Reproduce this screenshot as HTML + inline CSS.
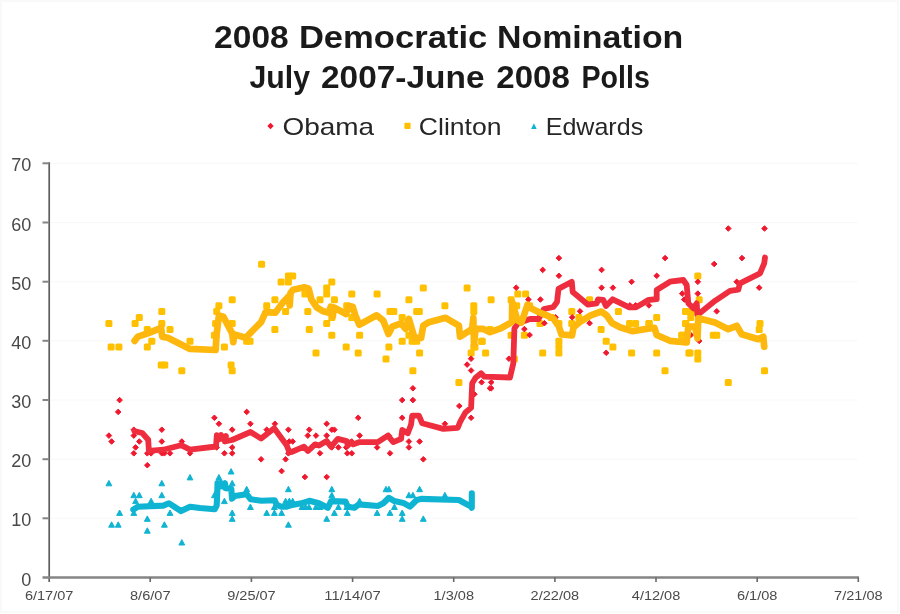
<!DOCTYPE html>
<html lang="en"><head><meta charset="utf-8"><title>2008 Democratic Nomination</title>
<style>html,body{margin:0;padding:0;background:#fff}svg{display:block}text{font-family:'Liberation Sans', sans-serif}</style></head><body>
<svg width="900" height="614" viewBox="0 0 900 614">
<rect x="0" y="0" width="900" height="614" fill="#ffffff"/>
<rect x="1" y="1" width="897" height="611" fill="none" stroke="#f9f9f9" stroke-width="2"/>
<line x1="50" x2="858" y1="518.3" y2="518.3" stroke="#f8f8f8" stroke-width="1"/>
<line x1="50" x2="858" y1="459.2" y2="459.2" stroke="#f8f8f8" stroke-width="1"/>
<line x1="50" x2="858" y1="400.0" y2="400.0" stroke="#f8f8f8" stroke-width="1"/>
<line x1="50" x2="858" y1="340.8" y2="340.8" stroke="#f8f8f8" stroke-width="1"/>
<line x1="50" x2="858" y1="281.7" y2="281.7" stroke="#f8f8f8" stroke-width="1"/>
<line x1="50" x2="858" y1="222.5" y2="222.5" stroke="#f8f8f8" stroke-width="1"/>
<line x1="50" x2="858" y1="163.3" y2="163.3" stroke="#f8f8f8" stroke-width="1"/>
<g id="clinton-pts" fill="#ffc000">
<rect x="105.4" y="320.0" width="7" height="7" rx="1.5"/>
<rect x="107.6" y="343.6" width="7" height="7" rx="1.5"/>
<rect x="115.4" y="343.6" width="7" height="7" rx="1.5"/>
<rect x="131.6" y="320.0" width="7" height="7" rx="1.5"/>
<rect x="135.8" y="314.1" width="7" height="7" rx="1.5"/>
<rect x="143.8" y="325.9" width="7" height="7" rx="1.5"/>
<rect x="143.8" y="343.6" width="7" height="7" rx="1.5"/>
<rect x="148.3" y="337.7" width="7" height="7" rx="1.5"/>
<rect x="158.3" y="308.1" width="7" height="7" rx="1.5"/>
<rect x="158.3" y="320.0" width="7" height="7" rx="1.5"/>
<rect x="166.5" y="325.9" width="7" height="7" rx="1.5"/>
<rect x="186.5" y="337.7" width="7" height="7" rx="1.5"/>
<rect x="157.7" y="361.4" width="7" height="7" rx="1.5"/>
<rect x="161.3" y="361.4" width="7" height="7" rx="1.5"/>
<rect x="178.3" y="367.3" width="7" height="7" rx="1.5"/>
<rect x="213.2" y="308.1" width="7" height="7" rx="1.5"/>
<rect x="215.4" y="302.2" width="7" height="7" rx="1.5"/>
<rect x="228.7" y="296.3" width="7" height="7" rx="1.5"/>
<rect x="212.1" y="320.0" width="7" height="7" rx="1.5"/>
<rect x="210.9" y="331.8" width="7" height="7" rx="1.5"/>
<rect x="220.9" y="343.6" width="7" height="7" rx="1.5"/>
<rect x="228.7" y="320.0" width="7" height="7" rx="1.5"/>
<rect x="227.6" y="361.4" width="7" height="7" rx="1.5"/>
<rect x="228.7" y="367.3" width="7" height="7" rx="1.5"/>
<rect x="246.5" y="337.7" width="7" height="7" rx="1.5"/>
<rect x="243.2" y="337.7" width="7" height="7" rx="1.5"/>
<rect x="258.1" y="260.8" width="7" height="7" rx="1.5"/>
<rect x="263.2" y="302.2" width="7" height="7" rx="1.5"/>
<rect x="271.4" y="296.3" width="7" height="7" rx="1.5"/>
<rect x="271.4" y="325.9" width="7" height="7" rx="1.5"/>
<rect x="277.6" y="278.6" width="7" height="7" rx="1.5"/>
<rect x="284.9" y="272.6" width="7" height="7" rx="1.5"/>
<rect x="284.9" y="278.6" width="7" height="7" rx="1.5"/>
<rect x="282.1" y="308.1" width="7" height="7" rx="1.5"/>
<rect x="289.2" y="272.6" width="7" height="7" rx="1.5"/>
<rect x="301.4" y="290.4" width="7" height="7" rx="1.5"/>
<rect x="304.3" y="308.1" width="7" height="7" rx="1.5"/>
<rect x="305.8" y="325.9" width="7" height="7" rx="1.5"/>
<rect x="312.5" y="349.6" width="7" height="7" rx="1.5"/>
<rect x="316.5" y="296.3" width="7" height="7" rx="1.5"/>
<rect x="323.2" y="284.5" width="7" height="7" rx="1.5"/>
<rect x="323.2" y="290.4" width="7" height="7" rx="1.5"/>
<rect x="323.2" y="320.0" width="7" height="7" rx="1.5"/>
<rect x="328.3" y="278.6" width="7" height="7" rx="1.5"/>
<rect x="328.3" y="314.1" width="7" height="7" rx="1.5"/>
<rect x="328.3" y="331.8" width="7" height="7" rx="1.5"/>
<rect x="330.9" y="296.3" width="7" height="7" rx="1.5"/>
<rect x="343.2" y="302.2" width="7" height="7" rx="1.5"/>
<rect x="342.7" y="343.6" width="7" height="7" rx="1.5"/>
<rect x="348.3" y="290.4" width="7" height="7" rx="1.5"/>
<rect x="348.3" y="314.1" width="7" height="7" rx="1.5"/>
<rect x="354.7" y="349.6" width="7" height="7" rx="1.5"/>
<rect x="356.1" y="331.8" width="7" height="7" rx="1.5"/>
<rect x="373.6" y="290.4" width="7" height="7" rx="1.5"/>
<rect x="382.5" y="355.5" width="7" height="7" rx="1.5"/>
<rect x="385.4" y="343.6" width="7" height="7" rx="1.5"/>
<rect x="386.5" y="308.1" width="7" height="7" rx="1.5"/>
<rect x="390.3" y="308.1" width="7" height="7" rx="1.5"/>
<rect x="398.7" y="314.1" width="7" height="7" rx="1.5"/>
<rect x="398.7" y="337.7" width="7" height="7" rx="1.5"/>
<rect x="405.4" y="296.3" width="7" height="7" rx="1.5"/>
<rect x="405.4" y="331.8" width="7" height="7" rx="1.5"/>
<rect x="408.7" y="337.7" width="7" height="7" rx="1.5"/>
<rect x="413.2" y="337.7" width="7" height="7" rx="1.5"/>
<rect x="409.4" y="367.3" width="7" height="7" rx="1.5"/>
<rect x="413.2" y="308.1" width="7" height="7" rx="1.5"/>
<rect x="415.8" y="308.1" width="7" height="7" rx="1.5"/>
<rect x="416.1" y="349.6" width="7" height="7" rx="1.5"/>
<rect x="419.8" y="284.5" width="7" height="7" rx="1.5"/>
<rect x="441.4" y="302.2" width="7" height="7" rx="1.5"/>
<rect x="463.6" y="284.5" width="7" height="7" rx="1.5"/>
<rect x="470.3" y="302.2" width="7" height="7" rx="1.5"/>
<rect x="470.3" y="308.1" width="7" height="7" rx="1.5"/>
<rect x="467.6" y="349.6" width="7" height="7" rx="1.5"/>
<rect x="470.3" y="343.6" width="7" height="7" rx="1.5"/>
<rect x="478.7" y="337.7" width="7" height="7" rx="1.5"/>
<rect x="482.1" y="349.6" width="7" height="7" rx="1.5"/>
<rect x="455.4" y="379.1" width="7" height="7" rx="1.5"/>
<rect x="487.6" y="296.3" width="7" height="7" rx="1.5"/>
<rect x="507.6" y="296.3" width="7" height="7" rx="1.5"/>
<rect x="514.3" y="290.4" width="7" height="7" rx="1.5"/>
<rect x="522.1" y="290.4" width="7" height="7" rx="1.5"/>
<rect x="513.2" y="302.2" width="7" height="7" rx="1.5"/>
<rect x="526.1" y="302.2" width="7" height="7" rx="1.5"/>
<rect x="586.1" y="296.3" width="7" height="7" rx="1.5"/>
<rect x="568.3" y="308.1" width="7" height="7" rx="1.5"/>
<rect x="614.9" y="308.1" width="7" height="7" rx="1.5"/>
<rect x="547.6" y="314.1" width="7" height="7" rx="1.5"/>
<rect x="575.4" y="314.1" width="7" height="7" rx="1.5"/>
<rect x="653.2" y="314.1" width="7" height="7" rx="1.5"/>
<rect x="682.1" y="308.1" width="7" height="7" rx="1.5"/>
<rect x="536.5" y="320.0" width="7" height="7" rx="1.5"/>
<rect x="555.4" y="320.0" width="7" height="7" rx="1.5"/>
<rect x="568.3" y="320.0" width="7" height="7" rx="1.5"/>
<rect x="626.1" y="320.0" width="7" height="7" rx="1.5"/>
<rect x="632.1" y="320.0" width="7" height="7" rx="1.5"/>
<rect x="645.4" y="320.0" width="7" height="7" rx="1.5"/>
<rect x="486.5" y="325.9" width="7" height="7" rx="1.5"/>
<rect x="597.6" y="325.9" width="7" height="7" rx="1.5"/>
<rect x="507.6" y="331.8" width="7" height="7" rx="1.5"/>
<rect x="520.9" y="331.8" width="7" height="7" rx="1.5"/>
<rect x="678.7" y="331.8" width="7" height="7" rx="1.5"/>
<rect x="682.1" y="320.0" width="7" height="7" rx="1.5"/>
<rect x="555.4" y="337.7" width="7" height="7" rx="1.5"/>
<rect x="555.4" y="343.6" width="7" height="7" rx="1.5"/>
<rect x="555.4" y="349.6" width="7" height="7" rx="1.5"/>
<rect x="602.7" y="337.7" width="7" height="7" rx="1.5"/>
<rect x="609.4" y="343.6" width="7" height="7" rx="1.5"/>
<rect x="539.2" y="349.6" width="7" height="7" rx="1.5"/>
<rect x="628.1" y="349.6" width="7" height="7" rx="1.5"/>
<rect x="653.2" y="349.6" width="7" height="7" rx="1.5"/>
<rect x="685.4" y="349.6" width="7" height="7" rx="1.5"/>
<rect x="510.9" y="355.5" width="7" height="7" rx="1.5"/>
<rect x="471.5" y="343.6" width="7" height="7" rx="1.5"/>
<rect x="478.2" y="337.7" width="7" height="7" rx="1.5"/>
<rect x="694.3" y="272.6" width="7" height="7" rx="1.5"/>
<rect x="695.7" y="296.3" width="7" height="7" rx="1.5"/>
<rect x="682.3" y="308.1" width="7" height="7" rx="1.5"/>
<rect x="688.2" y="308.1" width="7" height="7" rx="1.5"/>
<rect x="687.3" y="314.1" width="7" height="7" rx="1.5"/>
<rect x="645.7" y="320.0" width="7" height="7" rx="1.5"/>
<rect x="682.3" y="320.0" width="7" height="7" rx="1.5"/>
<rect x="678.2" y="331.8" width="7" height="7" rx="1.5"/>
<rect x="709.8" y="331.8" width="7" height="7" rx="1.5"/>
<rect x="713.2" y="331.8" width="7" height="7" rx="1.5"/>
<rect x="756.5" y="320.0" width="7" height="7" rx="1.5"/>
<rect x="755.7" y="325.9" width="7" height="7" rx="1.5"/>
<rect x="686.5" y="349.6" width="7" height="7" rx="1.5"/>
<rect x="694.3" y="349.6" width="7" height="7" rx="1.5"/>
<rect x="694.3" y="355.5" width="7" height="7" rx="1.5"/>
<rect x="661.5" y="367.3" width="7" height="7" rx="1.5"/>
<rect x="724.8" y="379.1" width="7" height="7" rx="1.5"/>
<rect x="761.0" y="367.3" width="7" height="7" rx="1.5"/>
</g>
<g id="obama-pts" fill="#f0182e" stroke="#f0182e" stroke-width="1" stroke-linejoin="round">
<polygon points="119.6,397.3 122.4,400.1 119.6,402.9 116.8,400.1"/>
<polygon points="118.2,409.1 121.0,411.9 118.2,414.7 115.4,411.9"/>
<polygon points="108.9,432.8 111.7,435.6 108.9,438.4 106.1,435.6"/>
<polygon points="111.6,438.7 114.4,441.5 111.6,444.3 108.8,441.5"/>
<polygon points="133.8,426.9 136.6,429.7 133.8,432.5 131.0,429.7"/>
<polygon points="133.8,432.8 136.6,435.6 133.8,438.4 131.0,435.6"/>
<polygon points="139.3,438.7 142.1,441.5 139.3,444.3 136.5,441.5"/>
<polygon points="135.6,444.6 138.4,447.4 135.6,450.2 132.8,447.4"/>
<polygon points="133.8,450.5 136.6,453.3 133.8,456.1 131.0,453.3"/>
<polygon points="147.3,450.5 150.1,453.3 147.3,456.1 144.5,453.3"/>
<polygon points="151.1,450.5 153.9,453.3 151.1,456.1 148.3,453.3"/>
<polygon points="147.3,462.4 150.1,465.2 147.3,468.0 144.5,465.2"/>
<polygon points="161.8,426.9 164.6,429.7 161.8,432.5 159.0,429.7"/>
<polygon points="161.8,438.7 164.6,441.5 161.8,444.3 159.0,441.5"/>
<polygon points="161.8,450.5 164.6,453.3 161.8,456.1 159.0,453.3"/>
<polygon points="164.4,450.5 167.2,453.3 164.4,456.1 161.6,453.3"/>
<polygon points="170.0,450.5 172.8,453.3 170.0,456.1 167.2,453.3"/>
<polygon points="181.8,438.7 184.6,441.5 181.8,444.3 179.0,441.5"/>
<polygon points="190.0,450.5 192.8,453.3 190.0,456.1 187.2,453.3"/>
<polygon points="214.4,415.0 217.2,417.8 214.4,420.6 211.6,417.8"/>
<polygon points="218.9,421.0 221.7,423.8 218.9,426.6 216.1,423.8"/>
<polygon points="216.7,444.6 219.5,447.4 216.7,450.2 213.9,447.4"/>
<polygon points="224.4,450.5 227.2,453.3 224.4,456.1 221.6,453.3"/>
<polygon points="232.2,426.9 235.0,429.7 232.2,432.5 229.4,429.7"/>
<polygon points="232.2,444.6 235.0,447.4 232.2,450.2 229.4,447.4"/>
<polygon points="232.2,450.5 235.0,453.3 232.2,456.1 229.4,453.3"/>
<polygon points="246.7,409.1 249.5,411.9 246.7,414.7 243.9,411.9"/>
<polygon points="250.4,421.0 253.2,423.8 250.4,426.6 247.6,423.8"/>
<polygon points="261.1,456.5 263.9,459.3 261.1,462.1 258.3,459.3"/>
<polygon points="266.7,426.9 269.5,429.7 266.7,432.5 263.9,429.7"/>
<polygon points="274.9,421.0 277.7,423.8 274.9,426.6 272.1,423.8"/>
<polygon points="281.6,468.3 284.4,471.1 281.6,473.9 278.8,471.1"/>
<polygon points="285.6,456.5 288.4,459.3 285.6,462.1 282.8,459.3"/>
<polygon points="288.4,426.9 291.2,429.7 288.4,432.5 285.6,429.7"/>
<polygon points="288.4,450.5 291.2,453.3 288.4,456.1 285.6,453.3"/>
<polygon points="292.7,438.7 295.5,441.5 292.7,444.3 289.9,441.5"/>
<polygon points="289.3,438.7 292.1,441.5 289.3,444.3 286.5,441.5"/>
<polygon points="307.8,432.8 310.6,435.6 307.8,438.4 305.0,435.6"/>
<polygon points="309.3,426.9 312.1,429.7 309.3,432.5 306.5,429.7"/>
<polygon points="316.0,432.8 318.8,435.6 316.0,438.4 313.2,435.6"/>
<polygon points="320.0,450.5 322.8,453.3 320.0,456.1 317.2,453.3"/>
<polygon points="326.7,421.0 329.5,423.8 326.7,426.6 323.9,423.8"/>
<polygon points="326.7,432.8 329.5,435.6 326.7,438.4 323.9,435.6"/>
<polygon points="331.8,426.9 334.6,429.7 331.8,432.5 329.0,429.7"/>
<polygon points="334.4,426.9 337.2,429.7 334.4,432.5 331.6,429.7"/>
<polygon points="331.8,444.6 334.6,447.4 331.8,450.2 329.0,447.4"/>
<polygon points="338.4,444.6 341.2,447.4 338.4,450.2 335.6,447.4"/>
<polygon points="346.2,444.6 349.0,447.4 346.2,450.2 343.4,447.4"/>
<polygon points="347.3,450.5 350.1,453.3 347.3,456.1 344.5,453.3"/>
<polygon points="351.8,450.5 354.6,453.3 351.8,456.1 349.0,453.3"/>
<polygon points="351.8,438.7 354.6,441.5 351.8,444.3 349.0,441.5"/>
<polygon points="358.2,415.0 361.0,417.8 358.2,420.6 355.4,417.8"/>
<polygon points="359.6,432.8 362.4,435.6 359.6,438.4 356.8,435.6"/>
<polygon points="377.1,444.6 379.9,447.4 377.1,450.2 374.3,447.4"/>
<polygon points="390.0,450.5 392.8,453.3 390.0,456.1 387.2,453.3"/>
<polygon points="388.9,432.8 391.7,435.6 388.9,438.4 386.1,435.6"/>
<polygon points="402.2,397.3 405.0,400.1 402.2,402.9 399.4,400.1"/>
<polygon points="402.2,415.0 405.0,417.8 402.2,420.6 399.4,417.8"/>
<polygon points="412.9,385.5 415.7,388.3 412.9,391.1 410.1,388.3"/>
<polygon points="412.9,397.3 415.7,400.1 412.9,402.9 410.1,400.1"/>
<polygon points="408.9,438.7 411.7,441.5 408.9,444.3 406.1,441.5"/>
<polygon points="408.9,444.6 411.7,447.4 408.9,450.2 406.1,447.4"/>
<polygon points="419.6,438.7 422.4,441.5 419.6,444.3 416.8,441.5"/>
<polygon points="423.3,456.5 426.1,459.3 423.3,462.1 420.5,459.3"/>
<polygon points="444.9,421.0 447.7,423.8 444.9,426.6 442.1,423.8"/>
<polygon points="459.3,403.2 462.1,406.0 459.3,408.8 456.5,406.0"/>
<polygon points="467.1,361.8 469.9,364.6 467.1,367.4 464.3,364.6"/>
<polygon points="471.1,355.9 473.9,358.7 471.1,361.5 468.3,358.7"/>
<polygon points="471.1,367.7 473.9,370.5 471.1,373.3 468.3,370.5"/>
<polygon points="471.1,415.0 473.9,417.8 471.1,420.6 468.3,417.8"/>
<polygon points="474.4,391.4 477.2,394.2 474.4,397.0 471.6,394.2"/>
<polygon points="481.6,379.5 484.4,382.3 481.6,385.1 478.8,382.3"/>
<polygon points="490.0,385.5 492.8,388.3 490.0,391.1 487.2,388.3"/>
<polygon points="304.9,474.2 307.7,477.0 304.9,479.8 302.1,477.0"/>
<polygon points="326.7,474.2 329.5,477.0 326.7,479.8 323.9,477.0"/>
<polygon points="558.9,255.3 561.7,258.1 558.9,260.9 556.1,258.1"/>
<polygon points="542.7,267.1 545.5,269.9 542.7,272.7 539.9,269.9"/>
<polygon points="558.9,273.0 561.7,275.8 558.9,278.6 556.1,275.8"/>
<polygon points="516.2,284.9 519.0,287.7 516.2,290.5 513.4,287.7"/>
<polygon points="528.4,296.7 531.2,299.5 528.4,302.3 525.6,299.5"/>
<polygon points="540.4,296.7 543.2,299.5 540.4,302.3 537.6,299.5"/>
<polygon points="601.6,267.1 604.4,269.9 601.6,272.7 598.8,269.9"/>
<polygon points="601.6,284.9 604.4,287.7 601.6,290.5 598.8,287.7"/>
<polygon points="612.9,284.9 615.7,287.7 612.9,290.5 610.1,287.7"/>
<polygon points="631.6,279.0 634.4,281.8 631.6,284.6 628.8,281.8"/>
<polygon points="656.7,273.0 659.5,275.8 656.7,278.6 653.9,275.8"/>
<polygon points="665.1,255.3 667.9,258.1 665.1,260.9 662.3,258.1"/>
<polygon points="682.2,290.8 685.0,293.6 682.2,296.4 679.4,293.6"/>
<polygon points="580.0,308.5 582.8,311.3 580.0,314.1 577.2,311.3"/>
<polygon points="572.2,314.5 575.0,317.3 572.2,320.1 569.4,317.3"/>
<polygon points="555.6,314.5 558.4,317.3 555.6,320.1 552.8,317.3"/>
<polygon points="544.4,320.4 547.2,323.2 544.4,326.0 541.6,323.2"/>
<polygon points="589.6,320.4 592.4,323.2 589.6,326.0 586.8,323.2"/>
<polygon points="524.4,326.3 527.2,329.1 524.4,331.9 521.6,329.1"/>
<polygon points="529.6,332.2 532.4,335.0 529.6,337.8 526.8,335.0"/>
<polygon points="606.2,350.0 609.0,352.8 606.2,355.6 603.4,352.8"/>
<polygon points="508.9,355.9 511.7,358.7 508.9,361.5 506.1,358.7"/>
<polygon points="648.9,302.6 651.7,305.4 648.9,308.2 646.1,305.4"/>
<polygon points="630.0,302.6 632.8,305.4 630.0,308.2 627.2,305.4"/>
<polygon points="635.6,302.6 638.4,305.4 635.6,308.2 632.8,305.4"/>
<polygon points="685.6,296.7 688.4,299.5 685.6,302.3 682.8,299.5"/>
<polygon points="491.2,379.5 494.0,382.3 491.2,385.1 488.4,382.3"/>
<polygon points="491.2,385.5 494.0,388.3 491.2,391.1 488.4,388.3"/>
<polygon points="728.3,225.7 731.1,228.5 728.3,231.3 725.5,228.5"/>
<polygon points="764.5,225.7 767.3,228.5 764.5,231.3 761.7,228.5"/>
<polygon points="742.0,255.3 744.8,258.1 742.0,260.9 739.2,258.1"/>
<polygon points="714.2,261.2 717.0,264.0 714.2,266.8 711.4,264.0"/>
<polygon points="697.8,279.0 700.6,281.8 697.8,284.6 695.0,281.8"/>
<polygon points="697.8,290.8 700.6,293.6 697.8,296.4 695.0,293.6"/>
<polygon points="736.7,279.0 739.5,281.8 736.7,284.6 733.9,281.8"/>
<polygon points="759.2,284.9 762.0,287.7 759.2,290.5 756.4,287.7"/>
<polygon points="716.7,308.5 719.5,311.3 716.7,314.1 713.9,311.3"/>
<polygon points="699.2,338.1 702.0,340.9 699.2,343.7 696.4,340.9"/>
<polygon points="690.8,332.2 693.6,335.0 690.8,337.8 688.0,335.0"/>
<polygon points="684.2,296.7 687.0,299.5 684.2,302.3 681.4,299.5"/>
</g>
<g id="edwards-pts" fill="#10b4d3" stroke="#10b4d3" stroke-width="1" stroke-linejoin="round">
<polygon points="108.9,480.4 111.8,485.8 106.0,485.8"/>
<polygon points="119.6,510.0 122.5,515.4 116.7,515.4"/>
<polygon points="111.6,521.8 114.5,527.2 108.7,527.2"/>
<polygon points="118.2,521.8 121.1,527.2 115.3,527.2"/>
<polygon points="133.8,492.3 136.7,497.7 130.9,497.7"/>
<polygon points="139.3,492.3 142.2,497.7 136.4,497.7"/>
<polygon points="135.6,498.2 138.5,503.6 132.7,503.6"/>
<polygon points="133.8,510.0 136.7,515.4 130.9,515.4"/>
<polygon points="147.3,515.9 150.2,521.3 144.4,521.3"/>
<polygon points="147.3,527.8 150.2,533.2 144.4,533.2"/>
<polygon points="151.1,498.2 154.0,503.6 148.2,503.6"/>
<polygon points="161.8,480.4 164.7,485.8 158.9,485.8"/>
<polygon points="161.8,492.3 164.7,497.7 158.9,497.7"/>
<polygon points="170.0,510.0 172.9,515.4 167.1,515.4"/>
<polygon points="164.4,521.8 167.3,527.2 161.5,527.2"/>
<polygon points="181.8,539.6 184.7,545.0 178.9,545.0"/>
<polygon points="190.0,474.5 192.9,479.9 187.1,479.9"/>
<polygon points="218.9,474.5 221.8,479.9 216.0,479.9"/>
<polygon points="231.1,468.6 234.0,474.0 228.2,474.0"/>
<polygon points="232.2,480.4 235.1,485.8 229.3,485.8"/>
<polygon points="214.4,492.3 217.3,497.7 211.5,497.7"/>
<polygon points="224.4,498.2 227.3,503.6 221.5,503.6"/>
<polygon points="232.2,510.0 235.1,515.4 229.3,515.4"/>
<polygon points="232.2,515.9 235.1,521.3 229.3,521.3"/>
<polygon points="246.7,486.3 249.6,491.7 243.8,491.7"/>
<polygon points="250.4,504.1 253.3,509.5 247.5,509.5"/>
<polygon points="266.7,510.0 269.6,515.4 263.8,515.4"/>
<polygon points="274.4,510.0 277.3,515.4 271.5,515.4"/>
<polygon points="281.6,510.0 284.5,515.4 278.7,515.4"/>
<polygon points="274.4,504.1 277.3,509.5 271.5,509.5"/>
<polygon points="285.6,498.2 288.5,503.6 282.7,503.6"/>
<polygon points="288.4,486.3 291.3,491.7 285.5,491.7"/>
<polygon points="288.4,521.8 291.3,527.2 285.5,527.2"/>
<polygon points="292.7,498.2 295.6,503.6 289.8,503.6"/>
<polygon points="289.3,498.2 292.2,503.6 286.4,503.6"/>
<polygon points="302.0,504.1 304.9,509.5 299.1,509.5"/>
<polygon points="305.5,504.1 308.4,509.5 302.6,509.5"/>
<polygon points="309.0,504.1 311.9,509.5 306.1,509.5"/>
<polygon points="316.0,504.1 318.9,509.5 313.1,509.5"/>
<polygon points="320.0,504.1 322.9,509.5 317.1,509.5"/>
<polygon points="326.7,515.9 329.6,521.3 323.8,521.3"/>
<polygon points="331.8,486.3 334.7,491.7 328.9,491.7"/>
<polygon points="331.8,492.3 334.7,497.7 328.9,497.7"/>
<polygon points="334.4,510.0 337.3,515.4 331.5,515.4"/>
<polygon points="338.4,504.1 341.3,509.5 335.5,509.5"/>
<polygon points="346.7,504.1 349.6,509.5 343.8,509.5"/>
<polygon points="347.3,510.0 350.2,515.4 344.4,515.4"/>
<polygon points="359.6,498.2 362.5,503.6 356.7,503.6"/>
<polygon points="377.1,510.0 380.0,515.4 374.2,515.4"/>
<polygon points="386.0,486.3 388.9,491.7 383.1,491.7"/>
<polygon points="388.9,486.3 391.8,491.7 386.0,491.7"/>
<polygon points="390.0,510.0 392.9,515.4 387.1,515.4"/>
<polygon points="394.4,504.1 397.3,509.5 391.5,509.5"/>
<polygon points="402.2,510.0 405.1,515.4 399.3,515.4"/>
<polygon points="402.2,515.9 405.1,521.3 399.3,521.3"/>
<polygon points="408.9,492.3 411.8,497.7 406.0,497.7"/>
<polygon points="412.9,492.3 415.8,497.7 410.0,497.7"/>
<polygon points="419.6,486.3 422.5,491.7 416.7,491.7"/>
<polygon points="423.3,515.9 426.2,521.3 420.4,521.3"/>
<polygon points="444.9,492.3 447.8,497.7 442.0,497.7"/>
</g>
<polyline points="134.4,431.2 142.2,433.0 148.2,439.7 148.9,450.8 163.3,449.7 181.1,445.2 190.0,449.7 216.0,446.5 216.8,435.2 219.0,439.5 221.0,435.0 223.5,439.5 226.0,436.0 224.8,441.5 232.0,440.0 250.5,432.0 261.2,438.6 274.2,428.3 286.5,445.0 289.5,452.3 291.5,452.0 304.0,446.7 308.0,451.0 315.0,444.3 318.9,445.6 326.7,441.1 331.1,446.7 337.8,438.9 346.7,441.1 347.8,445.6 351.1,442.2 353.3,444.4 358.9,442.2 377.8,442.2 387.8,435.6 393.3,442.2 401.1,438.9 402.2,430.0 407.8,433.3 411.1,424.4 412.2,415.6 418.9,415.6 422.2,423.3 443.3,428.9 457.8,427.8 460.0,422.2 465.6,412.2 471.1,407.8 472.2,383.3 475.6,377.8 481.1,373.3 484.4,376.7 510.0,377.5 513.3,363.3 514.4,328.5 517.8,323.3 530.0,319.0 538.5,319.0 544.0,309.0 553.3,307.0 557.0,302.0 558.5,288.9 571.8,281.8 572.7,292.0 576.7,295.3 588.0,304.7 596.7,303.3 598.0,299.5 603.3,300.0 606.0,306.0 612.7,299.3 629.3,307.3 636.0,307.3 640.0,305.0 648.3,300.0 656.7,299.2 656.7,290.0 670.0,281.7 683.3,280.0 686.7,285.0 688.3,303.3 693.3,308.3 696.7,303.3 697.5,315.0 715.0,300.8 730.0,290.8 738.3,289.7 740.0,283.3 760.0,273.3 764.2,263.3 765.0,257.5" fill="none" stroke="#ee2e3e" stroke-width="5.8" stroke-linejoin="round" stroke-linecap="round"/>
<polyline points="134.6,340.9 137.8,336.7 147.8,333.3 161.1,327.8 162.2,336.7 167.8,337.8 190.0,348.9 215.6,350.0 216.7,333.3 218.9,315.6 223.3,316.7 232.2,333.3 233.3,342.2 234.4,334.4 245.6,337.8 261.1,322.2 265.6,312.2 275.3,312.7 283.3,302.0 288.5,296.5 289.7,305.5 290.5,293.0 293.0,289.8 304.7,287.3 308.7,288.7 311.3,299.3 316.7,307.3 323.3,311.3 328.7,312.7 330.7,306.7 332.7,316.7 334.0,307.5 346.0,314.0 349.5,306.0 352.7,306.7 355.3,315.3 359.3,324.7 376.7,315.3 383.3,320.7 388.5,334.0 392.2,326.7 401.1,323.3 405.6,328.9 408.9,318.9 414.4,337.8 421.1,337.8 423.3,325.6 428.9,322.2 445.6,317.8 458.9,325.6 460.0,336.7 472.2,328.9 473.3,317.8 474.0,344.4 475.6,328.9 483.3,328.9 490.0,332.2 500.0,328.7 509.5,323.5 512.0,322.0 512.2,302.0 517.3,320.2 521.5,322.5 527.5,304.7 532.0,308.7 540.0,312.7 546.7,315.3 553.3,318.5 558.7,326.0 561.5,334.5 572.0,335.3 573.5,327.3 580.0,322.0 590.7,315.3 601.3,311.5 606.7,315.5 612.0,323.0 620.0,327.3 632.2,331.1 654.4,327.8 656.7,335.0 670.0,340.8 686.7,342.5 688.3,326.7 695.0,326.7 697.5,338.3 698.3,318.3 715.0,322.5 728.3,329.2 736.7,325.8 741.7,334.2 758.3,339.2 763.3,336.7 764.2,346.7" fill="none" stroke="#fdb70d" stroke-width="6.7" stroke-linejoin="round" stroke-linecap="round"/>
<polyline points="133.3,509.6 137.8,506.7 163.3,505.6 168.9,503.3 181.1,511.1 190.0,506.7 200.0,508.0 214.7,509.3 216.7,505.3 217.3,492.0 217.5,483.0 219.5,486.5 221.0,483.0 223.0,486.5 225.0,483.3 225.5,488.3 231.3,488.7 232.0,498.7 234.7,496.0 246.7,494.2 250.7,499.3 261.3,500.7 274.7,500.2 276.7,504.7 281.3,506.7 286.7,506.7 290.7,505.3 301.3,503.3 309.3,500.8 318.9,503.3 327.8,507.8 331.1,501.1 345.6,501.6 347.8,506.7 354.4,507.8 358.9,504.4 377.8,506.0 383.3,503.3 388.9,497.8 394.4,501.1 403.3,502.9 410.0,506.7 416.7,500.0 421.1,498.9 458.9,500.0 471.1,506.7 471.8,507.8 471.8,493.3" fill="none" stroke="#10b4d3" stroke-width="6.1" stroke-linejoin="round" stroke-linecap="round"/>
<g fill="none">
<line x1="49.2" x2="49.2" y1="162.3" y2="582" stroke="#5e5e5e" stroke-width="1.7"/>
<line x1="42.5" x2="859" y1="577.5" y2="577.5" stroke="#858585" stroke-width="2.4"/>
<line x1="42.5" x2="49.2" y1="518.3" y2="518.3" stroke="#858585" stroke-width="2"/>
<line x1="42.5" x2="49.2" y1="459.2" y2="459.2" stroke="#858585" stroke-width="2"/>
<line x1="42.5" x2="49.2" y1="400.0" y2="400.0" stroke="#858585" stroke-width="2"/>
<line x1="42.5" x2="49.2" y1="340.8" y2="340.8" stroke="#858585" stroke-width="2"/>
<line x1="42.5" x2="49.2" y1="281.7" y2="281.7" stroke="#858585" stroke-width="2"/>
<line x1="42.5" x2="49.2" y1="222.5" y2="222.5" stroke="#858585" stroke-width="2"/>
<line x1="42.5" x2="49.2" y1="163.3" y2="163.3" stroke="#858585" stroke-width="2"/>
<line x1="150.2" x2="150.2" y1="577.5" y2="582" stroke="#686868" stroke-width="1.6"/>
<line x1="251.4" x2="251.4" y1="577.5" y2="582" stroke="#686868" stroke-width="1.6"/>
<line x1="352.6" x2="352.6" y1="577.5" y2="582" stroke="#686868" stroke-width="1.6"/>
<line x1="453.7" x2="453.7" y1="577.5" y2="582" stroke="#686868" stroke-width="1.6"/>
<line x1="554.9" x2="554.9" y1="577.5" y2="582" stroke="#686868" stroke-width="1.6"/>
<line x1="656.0" x2="656.0" y1="577.5" y2="582" stroke="#686868" stroke-width="1.6"/>
<line x1="757.2" x2="757.2" y1="577.5" y2="582" stroke="#686868" stroke-width="1.6"/>
<line x1="858.3" x2="858.3" y1="577.5" y2="582" stroke="#686868" stroke-width="1.6"/>
</g>
<g fill="#484848" font-size="18" text-anchor="end">
<text x="31.2" y="585.5">0</text>
<text x="31.2" y="526.3">10</text>
<text x="31.2" y="467.2">20</text>
<text x="31.2" y="408.0">30</text>
<text x="31.2" y="348.8">40</text>
<text x="31.2" y="289.7">50</text>
<text x="31.2" y="230.5">60</text>
<text x="31.2" y="171.3">70</text>
</g>
<g fill="#4a4a4a" font-size="13.4">
<text x="24.9" y="600.3" textLength="48.5" lengthAdjust="spacingAndGlyphs">6/17/07</text>
<text x="130.0" y="600.3" textLength="40.5" lengthAdjust="spacingAndGlyphs">8/6/07</text>
<text x="227.2" y="600.3" textLength="48.5" lengthAdjust="spacingAndGlyphs">9/25/07</text>
<text x="324.3" y="600.3" textLength="56.5" lengthAdjust="spacingAndGlyphs">11/14/07</text>
<text x="433.5" y="600.3" textLength="40.5" lengthAdjust="spacingAndGlyphs">1/3/08</text>
<text x="530.6" y="600.3" textLength="48.5" lengthAdjust="spacingAndGlyphs">2/22/08</text>
<text x="631.8" y="600.3" textLength="48.5" lengthAdjust="spacingAndGlyphs">4/12/08</text>
<text x="736.9" y="600.3" textLength="40.5" lengthAdjust="spacingAndGlyphs">6/1/08</text>
<text x="834.1" y="600.3" textLength="48.5" lengthAdjust="spacingAndGlyphs">7/21/08</text>
</g>
<g fill="#1a1a1a" font-size="32" font-weight="bold">
<text x="214.1" y="47.5" textLength="74.6" lengthAdjust="spacingAndGlyphs">2008</text>
<text x="298.9" y="47.5" textLength="188.4" lengthAdjust="spacingAndGlyphs">Democratic</text>
<text x="497.0" y="47.5" textLength="186.3" lengthAdjust="spacingAndGlyphs">Nomination</text>
<text x="249.5" y="87.5" textLength="60.6" lengthAdjust="spacingAndGlyphs">July</text>
<text x="321.0" y="87.5" textLength="163.5" lengthAdjust="spacingAndGlyphs">2007-June</text>
<text x="496.3" y="87.5" textLength="73.5" lengthAdjust="spacingAndGlyphs">2008</text>
<text x="581.5" y="87.5" textLength="68.3" lengthAdjust="spacingAndGlyphs">Polls</text>
</g>
<g fill="#262626" font-size="24">
<text x="282.4" y="135" textLength="91.7" lengthAdjust="spacingAndGlyphs">Obama</text>
<text x="418.8" y="135" textLength="82.7" lengthAdjust="spacingAndGlyphs">Clinton</text>
<text x="545.7" y="135" textLength="97.5" lengthAdjust="spacingAndGlyphs">Edwards</text>
</g>
<polygon points="270.5,122.8 273.7,126 270.5,129.2 267.3,126" fill="#f0182e"/>
<rect x="404.4" y="122.8" width="6.2" height="6.2" rx="1" fill="#ffc000"/>
<polygon points="533.9,123.2 536.7,129 531.1,129" fill="#10b4d3"/>
</svg></body></html>
